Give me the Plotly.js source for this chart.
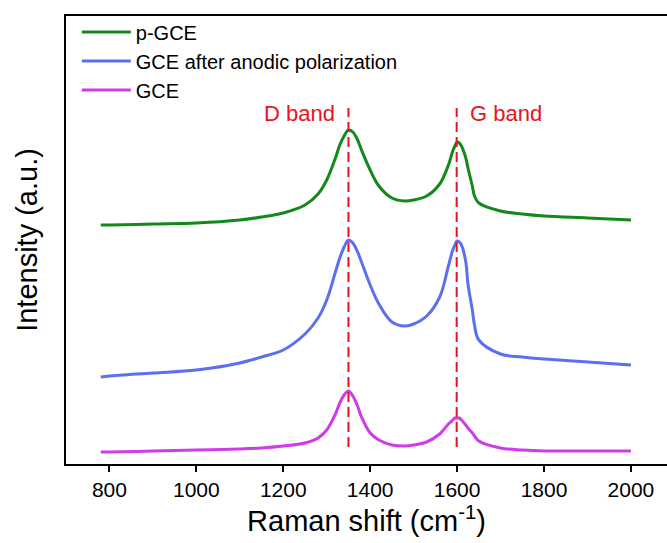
<!DOCTYPE html>
<html><head><meta charset="utf-8">
<script src="https://cdn.plot.ly/plotly-3.0.1.min.js"></script>
<style>html,body{margin:0;padding:0;background:#fff}</style>
</head><body><div id="chart" style="width:667px;height:543px"></div>
<script>
const shift = [780, 800, 900, 1000, 1100, 1150, 1200, 1250, 1280, 1300, 1320, 1330, 1340, 1350, 1360, 1370, 1380, 1400, 1420, 1450, 1480, 1500, 1530, 1560, 1580, 1590, 1595, 1600, 1605, 1610, 1620, 1625, 1635, 1640, 1650, 1700, 1750, 1800, 1900, 2000];
const pGCE = [239, 239, 240, 241, 244, 247, 251, 259, 270, 284, 306, 319, 328, 334, 332, 325, 314, 294, 278, 266, 263, 264, 268, 280, 299, 313, 318, 322, 321, 318, 306, 296, 278, 268, 261, 253, 250, 248, 246, 244];
const anodic = [87, 88, 91, 94, 101, 107, 114, 130, 146, 164, 192, 206, 217, 224, 221, 213, 202, 179, 160, 142, 138, 140, 148, 167, 198, 214, 219, 223, 222, 219, 202, 180, 154, 139, 124, 110, 107, 105, 102, 99];
const GCE = [12, 12, 13, 14, 15, 16, 18, 21, 26, 34, 50, 61, 69, 73, 68, 59, 47, 31, 24, 19, 18, 19, 22, 30, 40, 44, 46, 46, 46, 44, 39, 36, 31, 28, 23, 16, 14, 13, 13, 13];
const seriesNames = ['p-GCE', 'GCE after anodic polarization', 'GCE'];
const bandPositions = [1350, 1599];
const bandLabels = ['D band', 'G band'];
const xTicks = [800, 1000, 1200, 1400, 1600, 1800, 2000];

const FONT = 'Arial, Liberation Sans, sans-serif';
const colors = ['#14891a', '#5a70f0', '#cf3be8'];
const ys = [pGCE, anodic, GCE];
const traces = ys.map((y, i) => ({
  x: shift, y: y, name: seriesNames[i], type: 'scatter', mode: 'lines',
  line: {color: colors[i], width: 3, shape: 'spline', smoothing: 1}
}));

const shapes = bandPositions.map(b => ({
  type: 'line', xref: 'x', yref: 'y', x0: b, x1: b, y0: 17, y1: 356,
  line: {color: '#e8141c', width: 2, dash: '10px,5px'}
}));
const annotations = [
  {x: 1238, y: 351, xref: 'x', yref: 'y', text: bandLabels[0], showarrow: false,
   font: {size: 22, color: '#e8141c', family: FONT}},
  {x: 1712, y: 351, xref: 'x', yref: 'y', text: bandLabels[1], showarrow: false,
   font: {size: 22, color: '#e8141c', family: FONT}}
];

const layout = {
  width: 667, height: 543,
  margin: {l: 66, r: 0, t: 16, b: 79},
  paper_bgcolor: '#fff', plot_bgcolor: '#fff',
  font: {family: FONT, color: '#000'},
  showlegend: true,
  legend: {x: 0.018, y: 1.008, xanchor: 'left', yanchor: 'top', bgcolor: 'rgba(0,0,0,0)',
    font: {size: 20, color: '#000'}, tracegroupgap: 0, itemwidth: 49},
  xaxis: {range: [700, 2083], tickvals: xTicks, ticktext: xTicks.map(String),
    showline: true, linecolor: '#000', linewidth: 2, mirror: true,
    ticks: 'outside', ticklen: 6, tickwidth: 2, tickcolor: '#000',
    showgrid: false, zeroline: false, tickfont: {size: 21},
    title: {text: 'Raman shift (cm<sup>-1</sup>)', font: {size: 29}, standoff: 7}},
  yaxis: {range: [0, 448], showline: true, linecolor: '#000', linewidth: 2,
    showticklabels: false, ticks: '', showgrid: false, zeroline: false,
    title: {text: 'Intensity (a.u.)', font: {size: 29}, standoff: 18}},
  shapes: shapes, annotations: annotations
};
Plotly.newPlot('chart', traces, layout, {displayModeBar: false, staticPlot: true});
</script></body></html>
